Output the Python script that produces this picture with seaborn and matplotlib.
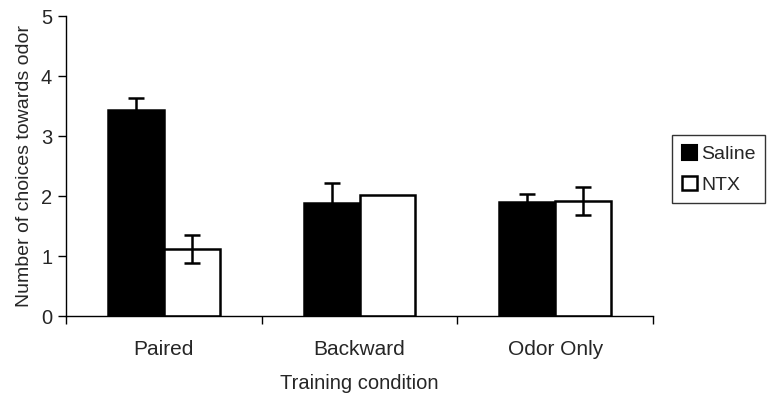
import matplotlib
matplotlib.use("Agg")
import matplotlib.pyplot as plt
import seaborn as sns
import pandas as pd
import numpy as np
from matplotlib.patches import Patch

conditions = ["Paired", "Backward", "Odor Only"]
groups = ["Saline", "NTX"]
saline_means = [3.43, 1.88, 1.90]
ntx_means = [1.12, 2.02, 1.92]
saline_err = [0.21, 0.33, 0.13]
ntx_err = [0.23, 0.0, 0.23]
yticks = [0, 1, 2, 3, 4, 5]

df = pd.DataFrame({
    "condition": conditions * 2,
    "group": [groups[0]] * 3 + [groups[1]] * 3,
    "value": saline_means + ntx_means,
    "err": saline_err + ntx_err,
})

sns.set_theme(style="white")
plt.rcParams["font.family"] = ["Liberation Sans", "DejaVu Sans"]

fig = plt.figure(figsize=(7.74, 4.0), dpi=100)
ax = fig.add_axes([0.0853, 0.21, 0.7584, 0.75])

sns.barplot(data=df, x="condition", y="value", hue="group", order=conditions,
            hue_order=groups, palette={"Saline": "black", "NTX": "white"},
            width=0.57, edgecolor="black", linewidth=1.8, errorbar=None,
            legend=False, ax=ax, saturation=1)

# error bars using patch positions produced by seaborn
for container, g in zip(ax.containers, groups):
    sub = df[df.group == g].set_index("condition").loc[conditions]
    xs = np.array([p.get_x() + p.get_width() / 2 for p in container.patches])
    mask = sub["err"].values > 0
    ax.errorbar(xs[mask], sub["value"].values[mask], yerr=sub["err"].values[mask],
                fmt="none", ecolor="black", elinewidth=1.8, capsize=5.5,
                capthick=1.8, zorder=5)

ax.set_xlim(-0.5, 2.5)
ax.set_ylim(0, 5)
ax.set_yticks(yticks)
ax.set_yticklabels([str(t) for t in yticks], fontsize=14.5)
ax.set_xticks(range(len(conditions)))
ax.set_xticklabels(conditions, fontsize=15)
ax.set_xticks([-0.5, 0.5, 1.5, 2.5], minor=True)
ax.tick_params(axis="x", which="major", length=0, pad=17)
ax.tick_params(axis="x", which="minor", length=6, width=1, color="black", direction="out", bottom=True)
ax.tick_params(axis="y", length=6, width=1, color="black", direction="out", left=True, pad=4)

for s in ["top", "right"]:
    ax.spines[s].set_visible(False)
for s in ["left", "bottom"]:
    ax.spines[s].set_color("black")
    ax.spines[s].set_linewidth(1.0)

ax.set_xlabel("Training condition", fontsize=14.5, labelpad=11)
ax.set_ylabel("Number of choices towards odor", fontsize=14, labelpad=6)

handles = [Patch(facecolor="black", edgecolor="black", linewidth=1.5, label="Saline"),
           Patch(facecolor="white", edgecolor="black", linewidth=1.8, label="NTX")]
leg = fig.legend(handles=handles, loc="upper left", bbox_to_anchor=(672 / 774, 1 - 135 / 400),
                 frameon=True, fancybox=False, fontsize=14, handlelength=0.8,
                 handleheight=0.8, handletextpad=0.2, borderpad=0.5, labelspacing=0.65,
                 borderaxespad=0, edgecolor="black")
leg.get_frame().set_linewidth(1.0)

fig.savefig("out.png", dpi=100)
